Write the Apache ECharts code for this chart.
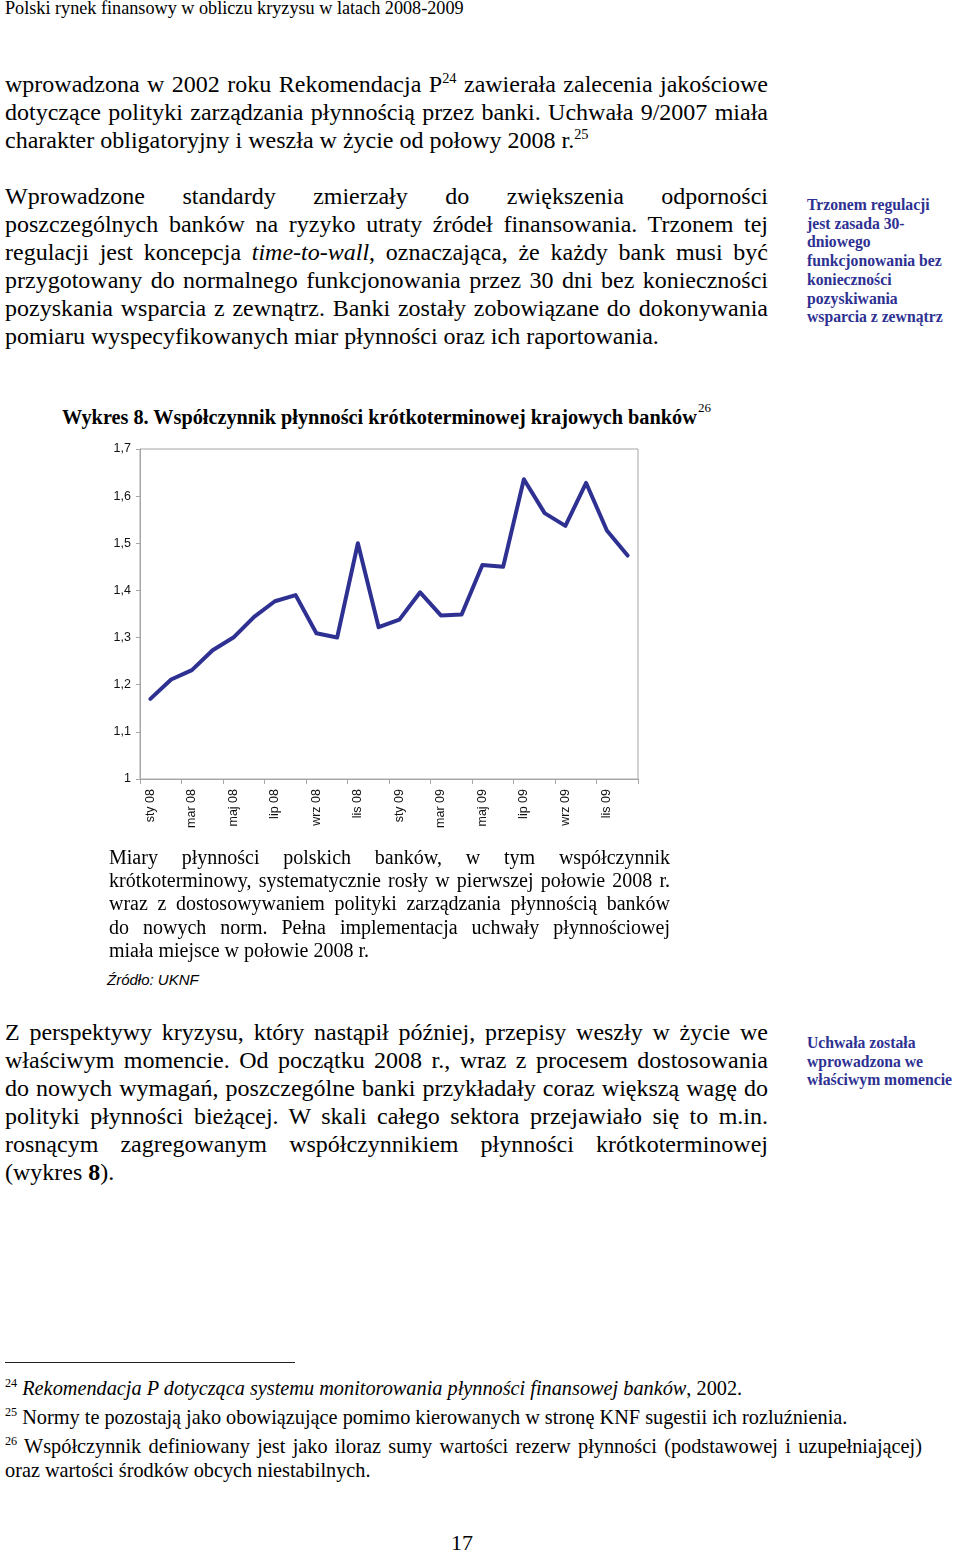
<!DOCTYPE html>
<html><head><meta charset="utf-8">
<script src="https://cdn.jsdelivr.net/npm/echarts@6/dist/echarts.min.js"></script>
<style>
html,body{margin:0;padding:0;background:#fff;}
body{width:960px;height:1555px;position:relative;overflow:hidden;font-family:"Liberation Serif","Times New Roman",serif;color:#000;}
.ln{position:absolute;white-space:nowrap;}
.m{font-size:24px;line-height:28px;left:5px;}
.cap{font-size:20px;line-height:23.3px;left:109px;}
.fn{font-size:20.3px;line-height:24px;left:5px;}
.side{left:807px;font-weight:bold;font-size:15.7px;line-height:18.7px;color:#2e3192;}
sup{font-size:0.6em;vertical-align:0.65em;line-height:0;}
#chart{position:absolute;left:0;top:430px;width:700px;height:420px;}
</style></head><body>

<div class="ln" style="left:5px;top:-2px;font-size:18.2px;line-height:20px;">Polski rynek finansowy w obliczu kryzysu w latach 2008-2009</div>

<div class="ln m j" data-w="763" style="top:70px">wprowadzona w 2002 roku Rekomendacja P<sup>24</sup> zawierała zalecenia jakościowe</div>
<div class="ln m j" data-w="763" style="top:98px">dotyczące polityki zarządzania płynnością przez banki. Uchwała 9/2007 miała</div>
<div class="ln m" style="top:126px">charakter obligatoryjny i weszła w życie od połowy 2008 r.<sup>25</sup></div>

<div class="ln m j" data-w="763" style="top:182px">Wprowadzone standardy zmierzały do zwiększenia odporności</div>
<div class="ln m j" data-w="763" style="top:210px">poszczególnych banków na ryzyko utraty źródeł finansowania. Trzonem tej</div>
<div class="ln m j" data-w="763" style="top:238px">regulacji jest koncepcja <i>time-to-wall</i>, oznaczająca, że każdy bank musi być</div>
<div class="ln m j" data-w="763" style="top:266px">przygotowany do normalnego funkcjonowania przez 30 dni bez konieczności</div>
<div class="ln m j" data-w="763" style="top:294px">pozyskania wsparcia z zewnątrz. Banki zostały zobowiązane do dokonywania</div>
<div class="ln m" style="top:322px">pomiaru wyspecyfikowanych miar płynności oraz ich raportowania.</div>

<div class="ln side" style="top:196px">Trzonem regulacji</div>
<div class="ln side" style="top:214.7px">jest zasada 30-</div>
<div class="ln side" style="top:233.4px">dniowego</div>
<div class="ln side" style="top:252.1px">funkcjonowania bez</div>
<div class="ln side" style="top:270.8px">konieczności</div>
<div class="ln side" style="top:289.5px">pozyskiwania</div>
<div class="ln side" style="top:308.2px">wsparcia z zewnątrz</div>

<div class="ln fs" data-w="635" style="left:62px;top:405px;font-size:20px;line-height:24px;font-weight:bold;">Wykres 8. Współczynnik płynności krótkoterminowej krajowych banków</div>
<div class="ln" style="left:698px;top:401px;font-size:13px;line-height:14px;">26</div>

<div id="chart"></div>

<div class="ln cap j" data-w="561" style="top:845.6px">Miary płynności polskich banków, w tym współczynnik</div>
<div class="ln cap j" data-w="561" style="top:868.9px">krótkoterminowy, systematycznie rosły w pierwszej połowie 2008 r.</div>
<div class="ln cap j" data-w="561" style="top:892.2px">wraz z dostosowywaniem polityki zarządzania płynnością banków</div>
<div class="ln cap j" data-w="561" style="top:915.5px">do nowych norm. Pełna implementacja uchwały płynnościowej</div>
<div class="ln cap" style="top:938.8px">miała miejsce w połowie 2008 r.</div>
<div class="ln" style="left:107px;top:971px;font-family:'Liberation Sans Narrow','Liberation Sans',sans-serif;font-style:italic;font-size:15px;line-height:18px;">Źródło: UKNF</div>

<div class="ln m j" data-w="763" style="top:1018px">Z perspektywy kryzysu, który nastąpił później, przepisy weszły w życie we</div>
<div class="ln m j" data-w="763" style="top:1046px">właściwym momencie. Od początku 2008 r., wraz z procesem dostosowania</div>
<div class="ln m j" data-w="763" style="top:1074px">do nowych wymagań, poszczególne banki przykładały coraz większą wagę do</div>
<div class="ln m j" data-w="763" style="top:1102px">polityki płynności bieżącej. W skali całego sektora przejawiało się to m.in.</div>
<div class="ln m j" data-w="763" style="top:1130px">rosnącym zagregowanym współczynnikiem płynności krótkoterminowej</div>
<div class="ln m" style="top:1158px">(wykres <b>8</b>).</div>

<div class="ln side" style="top:1034px">Uchwała została</div>
<div class="ln side" style="top:1052.5px">wprowadzona we</div>
<div class="ln side" style="top:1071px">właściwym momencie</div>

<div style="position:absolute;left:5px;top:1362px;width:290px;height:1.3px;background:#222;"></div>
<div class="ln fn" style="top:1376px"><sup>24</sup> <i>Rekomendacja P dotycząca systemu monitorowania płynności finansowej banków</i>, 2002.</div>
<div class="ln fn" style="top:1405px"><sup>25</sup> Normy te pozostają jako obowiązujące pomimo kierowanych w stronę KNF sugestii ich rozluźnienia.</div>
<div class="ln fn j" data-w="917" style="top:1434px"><sup>26</sup> Współczynnik definiowany jest jako iloraz sumy wartości rezerw płynności (podstawowej i uzupełniającej)</div>
<div class="ln fn" style="top:1458px">oraz wartości środków obcych niestabilnych.</div>

<div class="ln" style="left:451px;top:1531px;font-size:22px;line-height:24px;">17</div>

<script>
// fit font size of single-line elements to a target width
document.querySelectorAll('.fs').forEach(function(el){
  var target = parseFloat(el.getAttribute('data-w'));
  var w = el.getBoundingClientRect().width;
  var fs = parseFloat(getComputedStyle(el).fontSize);
  el.style.fontSize = (fs * target / w) + 'px';
});
// fit justified lines
document.querySelectorAll('.j').forEach(function(el){
  var target = parseFloat(el.getAttribute('data-w'));
  var w = el.getBoundingClientRect().width;
  var spaces = (el.textContent.match(/ /g) || []).length;
  if (spaces > 0) el.style.wordSpacing = ((target - w) / spaces) + 'px';
});

var months = ['sty 08','lut 08','mar 08','kwi 08','maj 08','cze 08','lip 08','sie 08','wrz 08','paź 08','lis 08','gru 08',
              'sty 09','lut 09','mar 09','kwi 09','maj 09','cze 09','lip 09','sie 09','wrz 09','paź 09','lis 09','gru 09'];
var ratio = [1.170,1.211,1.231,1.273,1.300,1.344,1.377,1.390,1.309,1.300,1.500,1.322,
             1.338,1.396,1.347,1.349,1.454,1.450,1.636,1.564,1.537,1.628,1.527,1.474];
var yMin = 1, yMax = 1.7, yStep = 0.1;

var chart = echarts.init(document.getElementById('chart'), null, {renderer:'canvas'});
chart.setOption({
  animation:false,
  grid:{left:140,right:62,top:19,bottom:71,show:true,borderColor:'#a6a6a6',borderWidth:1,backgroundColor:'transparent'},
  xAxis:{
    type:'category', data:months, boundaryGap:true,
    axisLine:{lineStyle:{color:'#a6a6a6',width:1}},
    axisTick:{show:true,interval:1,length:5,inside:false,lineStyle:{color:'#a6a6a6'}},
    axisLabel:{interval:1,rotate:90,margin:10,color:'#111',fontFamily:'Liberation Sans, Arial, sans-serif',fontSize:12.5}
  },
  yAxis:{
    type:'value', min:yMin, max:yMax, interval:yStep,
    splitLine:{show:false},
    axisLine:{show:true,lineStyle:{color:'#a6a6a6',width:1}},
    axisTick:{show:true,length:4,lineStyle:{color:'#a6a6a6'}},
    axisLabel:{margin:9,color:'#111',fontFamily:'Liberation Sans, Arial, sans-serif',fontSize:12.5,
      formatter:function(v){ return (Math.round(v*10)/10).toString().replace('.',','); }}
  },
  series:[{type:'line',data:ratio,symbol:'none',smooth:false,
    lineStyle:{color:'#2e3192',width:4,join:'round',cap:'round'}}]
});
</script>
</body></html>
